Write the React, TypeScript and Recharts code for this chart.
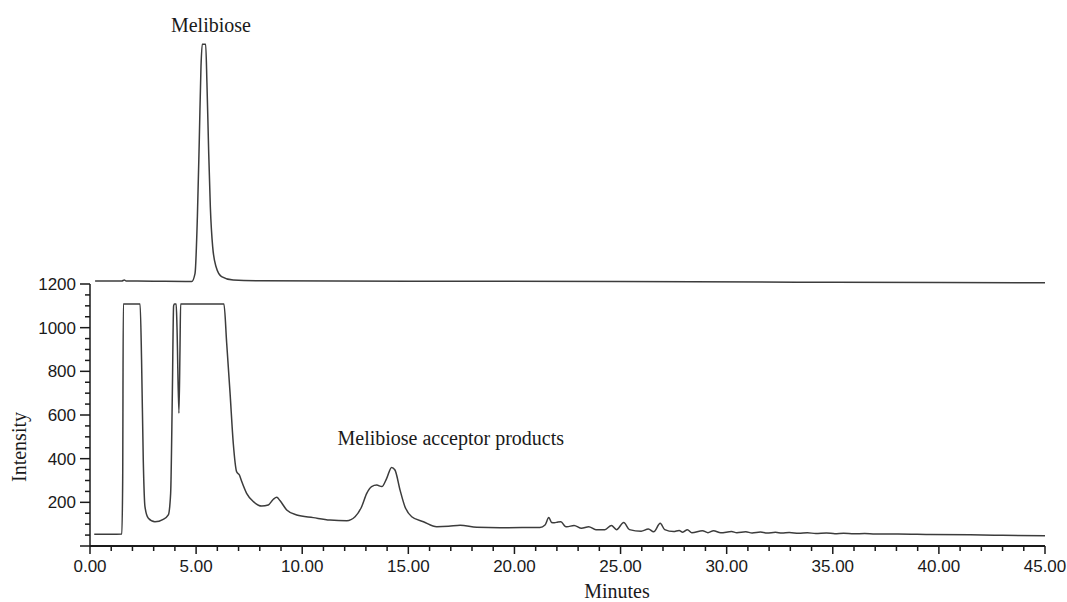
import React from 'react'
import { LineChart, Line, XAxis, YAxis, ReferenceLine, ReferenceDot } from 'recharts'

// Melibiose standard (upper trace), offset above the sample trace
const melibioseTime = [0.24, 1.5, 1.62, 1.7, 3.0, 4.5, 4.79, 4.95, 5.06, 5.15, 5.23, 5.29, 5.45, 5.51, 5.59, 5.67, 5.78, 5.94, 6.2, 6.75, 8, 15, 25, 35, 45]
const melibioseSignal = [1214, 1214, 1218, 1214, 1213, 1212, 1211, 1249, 1508, 1860, 2196, 2298, 2298, 2121, 1814, 1554, 1371, 1279, 1234, 1218, 1215, 1213, 1211, 1208, 1206]

// Reaction mixture (lower trace)
const productTime = [
  0.2, 1.0, 1.5, 1.54, 1.57, 2.36, 2.43, 2.51, 2.59, 2.75, 3.06, 3.45, 3.69, 3.8, 3.88, 3.94, 3.98, 4.06, 4.1, 4.19,
  4.24, 4.27, 6.31, 6.44, 6.6, 6.75, 6.91, 7.04, 7.15, 7.38, 7.7, 8.09, 8.4, 8.64, 8.8, 8.95, 9.27, 9.74, 10.52, 11.31,
  12.1, 12.49, 12.8, 13.04, 13.27, 13.51, 13.75, 13.98, 14.21, 14.37, 14.61, 14.84, 15.16, 15.71, 16.34, 16.9, 17.44, 18.22, 19.32, 21.2,
  21.44, 21.62, 21.75, 21.88, 22.05, 22.19, 22.39, 22.47, 22.81, 23.16, 23.5, 23.84, 24.26, 24.57, 24.81, 25.15, 25.42, 25.97, 26.31, 26.56,
  26.87, 27.08, 27.5, 27.76, 27.93, 28.15, 28.36, 28.86, 29.12, 29.38, 29.72, 30.23, 30.48, 30.9, 31.2, 31.6, 31.9, 32.3, 32.6, 32.95,
  33.4, 33.8, 34.2, 34.7, 35.1, 35.51, 36, 36.5, 37, 38.07, 39.5, 41.48, 43, 45
]
const productSignal = [
  54, 54, 55, 300, 1108, 1108, 852, 394, 180, 127, 111, 122, 142, 241, 700, 1100, 1108, 1108, 1000, 608,
  900, 1108, 1108, 930, 700, 472, 340, 325, 295, 241, 203, 183, 188, 214, 223, 208, 165, 142, 130, 119,
  116, 134, 180, 241, 272, 279, 272, 310, 360, 348, 256, 180, 134, 111, 88, 90, 95, 86, 84, 85,
  96, 130, 108, 106, 110, 111, 90, 88, 94, 81, 88, 75, 75, 94, 75, 108, 75, 68, 78, 65,
  104, 75, 66, 71, 63, 75, 61, 70, 61, 70, 61, 66, 61, 65, 60, 64, 59, 63, 59, 62,
  58, 61, 57, 60, 56, 58, 56, 57, 55, 55, 53, 51, 49, 47
]

const xTicks = [0, 1, 2, 3, 4, 5, 6, 7, 8, 9, 10, 11, 12, 13, 14, 15, 16, 17, 18, 19, 20, 21, 22, 23, 24, 25, 26, 27, 28, 29, 30, 31, 32, 33, 34, 35, 36, 37, 38, 39, 40, 41, 42, 43, 44, 45]
const yTicks = [0, 50, 100, 150, 200, 250, 300, 350, 400, 450, 500, 550, 600, 650, 700, 750, 800, 850, 900, 950, 1000, 1050, 1100, 1150, 1200]

const melibioseData = melibioseTime.map((t, i) => ({ t, v: melibioseSignal[i] }))
const productData = productTime.map((t, i) => ({ t, v: productSignal[i] }))

const INK = '#1a1a1a'
const TRACE = '#3c3c3c'
const SANS = '"Liberation Sans", Arial, sans-serif'
const SERIF = '"Liberation Serif", "Times New Roman", serif'

const XTick = ({ x, y, payload }: any) => {
  const major = payload.value % 5 === 0
  return (
    <g>
      <line x1={x} y1={y} x2={x} y2={y + (major ? 8 : 5)} stroke={INK} strokeWidth={1.5} />
      {major && (
        <text x={x} y={y + 26} textAnchor="middle" fontFamily={SANS} fontSize={17} fill={INK}>
          {payload.value.toFixed(2)}
        </text>
      )}
    </g>
  )
}

const YTick = ({ x, y, payload }: any) => {
  const major = payload.value % 200 === 0
  return (
    <g>
      <line x1={x} y1={y} x2={x - (major ? 10 : 5)} y2={y} stroke={INK} strokeWidth={1.5} />
      {major && payload.value > 0 && (
        <text x={x - 14} y={y + 6} textAnchor="end" fontFamily={SANS} fontSize={17} fill={INK}>
          {payload.value}
        </text>
      )}
    </g>
  )
}

const annotation = (text: string) => (props: any) => {
  const { viewBox } = props
  return (
    <text x={viewBox.x} y={viewBox.y + 7} textAnchor="middle" fontFamily={SERIF} fontSize={20} fill={INK}>
      {text}
    </text>
  )
}

export default function App() {
  return (
    <div style={{ position: 'absolute', left: 0, top: 0, background: '#fff' }}>
      <LineChart width={1067} height={602} margin={{ top: 22, right: 22, bottom: 0, left: 0 }}>
        <XAxis
          type="number"
          dataKey="t"
          domain={[0, 45]}
          ticks={xTicks}
          interval={0}
          allowDataOverflow
          height={56}
          tickSize={0}
          tickMargin={0}
          tick={<XTick />}
          axisLine={{ stroke: INK, strokeWidth: 2 }}
          label={{
            content: () => (
              <text x={617} y={598} textAnchor="middle" fontFamily={SERIF} fontSize={20} fill={INK}>
                Minutes
              </text>
            )
          }}
        />
        <YAxis
          type="number"
          dataKey="v"
          domain={[0, 2400]}
          ticks={yTicks}
          interval={0}
          allowDataOverflow
          width={90}
          tickSize={0}
          tickMargin={0}
          tick={<YTick />}
          axisLine={false}
          label={{
            content: () => (
              <text
                x={26}
                y={447}
                transform="rotate(-90 26 447)"
                textAnchor="middle"
                fontFamily={SERIF}
                fontSize={20}
                fill={INK}
              >
                Intensity
              </text>
            )
          }}
        />
        <ReferenceLine
          segment={[{ x: 0, y: 0 }, { x: 0, y: 1200 }]}
          stroke={INK}
          strokeWidth={1.5}
          ifOverflow="visible"
        />
        <Line
          data={melibioseData}
          dataKey="v"
          type="monotone"
          stroke={TRACE}
          strokeWidth={1.5}
          dot={false}
          activeDot={false}
          isAnimationActive={false}
        />
        <Line
          data={productData}
          dataKey="v"
          type="monotone"
          stroke={TRACE}
          strokeWidth={1.5}
          dot={false}
          activeDot={false}
          isAnimationActive={false}
        />
        <ReferenceDot x={5.7} y={2387} r={0} fill="none" stroke="none" ifOverflow="visible" label={{ content: annotation('Melibiose') }} />
        <ReferenceDot x={17.0} y={495} r={0} fill="none" stroke="none" ifOverflow="visible" label={{ content: annotation('Melibiose acceptor products') }} />
      </LineChart>
    </div>
  )
}
